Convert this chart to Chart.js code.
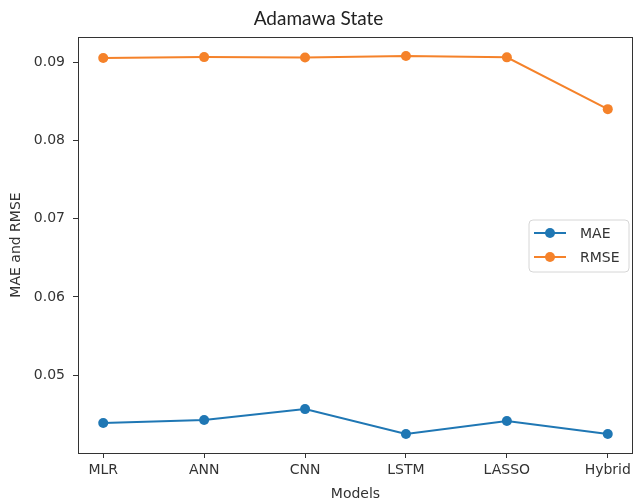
<!DOCTYPE html>
<html>
<head>
<meta charset="utf-8">
<script src="https://cdn.jsdelivr.net/npm/chart.js@4.4.1/dist/chart.umd.min.js"></script>
<style>
  html, body { margin: 0; padding: 0; background: #ffffff; }
  #wrap { width: 638px; height: 503px; }
</style>
</head>
<body>
<div id="wrap"><canvas id="c" width="638" height="503"></canvas></div>
<script>
const chartTitle = "Adamawa State";
const categories = ["MLR", "ANN", "CNN", "LSTM", "LASSO", "Hybrid"];
const maeValues  = [0.04389, 0.04427, 0.04567, 0.04248, 0.04414, 0.04248];
const rmseValues = [0.09053, 0.09065, 0.09060, 0.09080, 0.09062, 0.08400];
const yTicks = [0.05, 0.06, 0.07, 0.08, 0.09];
const yAxisTitle = "MAE and RMSE";
const xAxisTitle = "Models";

const tickFont = { family: "'DejaVu Sans'", size: 14 };
const textColor = "#333333";

const toPoints = arr => arr.map((v, i) => ({ x: i, y: v }));

const framePlugin = {
  id: 'frame',
  afterDatasetsDraw(chart) {
    const a = chart.chartArea, ctx = chart.ctx;
    ctx.save();
    ctx.strokeStyle = '#333333';
    ctx.lineWidth = 1;
    ctx.strokeRect(Math.round(a.left) + 0.5, Math.round(a.top) + 0.5,
                   Math.round(a.right - a.left) - 1, Math.round(a.bottom - a.top));
    ctx.restore();
  }
};

const legendPlugin = {
  id: 'mplLegend',
  afterDraw(chart) {
    const ctx = chart.ctx;
    const x0 = 529, y0 = 220, w = 100, h = 52, r = 4;
    ctx.save();
    ctx.beginPath();
    ctx.moveTo(x0 + r, y0);
    ctx.arcTo(x0 + w, y0, x0 + w, y0 + h, r);
    ctx.arcTo(x0 + w, y0 + h, x0, y0 + h, r);
    ctx.arcTo(x0, y0 + h, x0, y0, r);
    ctx.arcTo(x0, y0, x0 + w, y0, r);
    ctx.closePath();
    ctx.fillStyle = 'rgba(255,255,255,0.85)';
    ctx.fill();
    ctx.strokeStyle = '#d6d6d6';
    ctx.lineWidth = 1;
    ctx.stroke();
    chart.data.datasets.forEach((ds, i) => {
      const y = 233 + i * 24;
      ctx.strokeStyle = ds.borderColor;
      ctx.lineWidth = 2;
      ctx.beginPath();
      ctx.moveTo(534, y);
      ctx.lineTo(566, y);
      ctx.stroke();
      ctx.fillStyle = ds.backgroundColor;
      ctx.beginPath();
      ctx.arc(550, y, 5, 0, Math.PI * 2);
      ctx.fill();
      ctx.fillStyle = textColor;
      ctx.font = "14px 'DejaVu Sans'";
      ctx.textBaseline = 'middle';
      ctx.textAlign = 'left';
      ctx.fillText(ds.label, 580, y + 1);
    });
    ctx.restore();
  }
};

new Chart(document.getElementById('c'), {
  type: 'line',
  data: {
    datasets: [
      { label: 'MAE', data: toPoints(maeValues), borderColor: '#1f77b4', backgroundColor: '#1f77b4',
        borderWidth: 2, pointRadius: 5, pointHoverRadius: 5, pointBorderWidth: 0, tension: 0 },
      { label: 'RMSE', data: toPoints(rmseValues), borderColor: '#f5822a', backgroundColor: '#f5822a',
        borderWidth: 2, pointRadius: 5, pointHoverRadius: 5, pointBorderWidth: 0, tension: 0 }
    ]
  },
  options: {
    responsive: false,
    animation: false,
    layout: { padding: { left: 0, right: 1, top: 0, bottom: 0 } },
    plugins: {
      legend: { display: false },
      tooltip: { enabled: false },
      title: {
        display: true, text: chartTitle, color: '#222222',
        font: { family: "Lato", size: 19, weight: 'normal', lineHeight: 1.0 },
        padding: { top: 9, bottom: 9 }
      }
    },
    scales: {
      x: {
        type: 'linear', min: -0.25, max: 5.25,
        afterBuildTicks: s => { s.ticks = categories.map((c, i) => ({ value: i })); },
        afterFit: s => { s.height = 50; },
        ticks: { callback: v => categories[v], color: textColor, font: tickFont, padding: 4, maxRotation: 0, autoSkip: false },
        grid: { drawOnChartArea: false, drawTicks: true, tickLength: 5, color: '#333333' },
        border: { display: false },
        title: { display: true, text: xAxisTitle, color: textColor, font: tickFont, padding: { top: 0, bottom: 0 } }
      },
      y: {
        type: 'linear', min: 0.04006, max: 0.09322,
        afterBuildTicks: s => { s.ticks = yTicks.map(v => ({ value: v })); },
        afterFit: s => { s.width = 78; },
        ticks: { callback: v => v.toFixed(2), color: textColor, font: tickFont, padding: 8 },
        grid: { drawOnChartArea: false, drawTicks: true, tickLength: 5, color: '#333333' },
        border: { display: false },
        title: { display: true, text: yAxisTitle, color: textColor, font: tickFont, padding: { top: 8, bottom: 0 } }
      }
    }
  },
  plugins: [framePlugin, legendPlugin]
});
</script>
</body>
</html>
